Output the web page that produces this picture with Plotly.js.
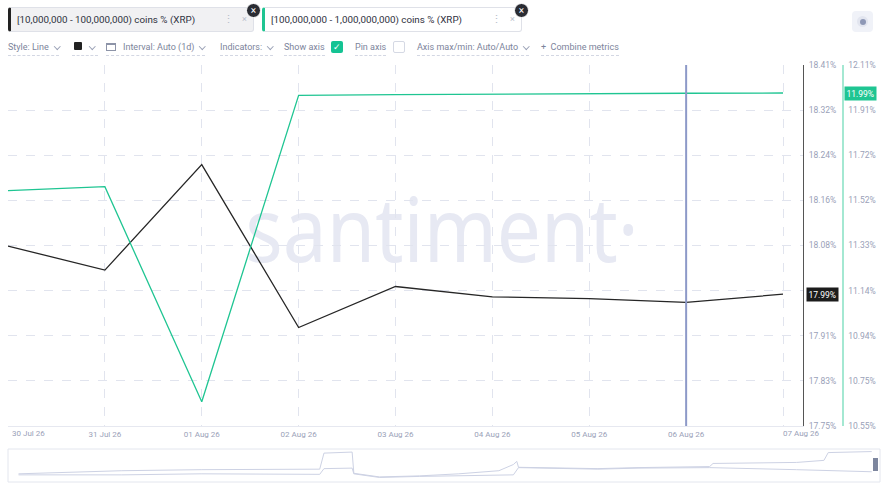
<!DOCTYPE html>
<html>
<head>
<meta charset="utf-8">
<script src="https://cdn.plot.ly/plotly-3.0.1.min.js"></script>
<style>
  html, body { margin: 0; padding: 0; background: #fff; }
  body { width: 889px; height: 483px; position: relative; overflow: hidden; font-family: Roboto, "Noto Sans", sans-serif; }
  #chart { position: absolute; left: 0; top: 0; width: 889px; height: 483px; z-index: 1; }
  #wm { position: absolute; left: 0; width: 884px; top: 182px; text-align: center; font-family: "Noto Sans", sans-serif;
        font-weight: 400; font-size: 90px; line-height: 90px; color: #e7e9f3; z-index: 0;
        transform: scaleX(0.87); transform-origin: 442px 0; white-space: nowrap; }
  .ui { position: absolute; z-index: 2; }
  .tab { position: absolute; top: 7px; height: 25px; border: 1px solid #dfe1e8; border-radius: 3px; box-sizing: border-box;
         font-size: 9.8px; color: #2f3140; line-height: 23px; padding-left: 6px; white-space: nowrap; }
  .tab .dots { position: absolute; top: 0; color: #b8bdcb; font-size: 11px; }
  .tab .x { position: absolute; top: 0; color: #b8bdcb; font-size: 9px; }
  .close { position: absolute; width: 13px; height: 13px; border-radius: 50%; background: #2a2c33; color: #fff;
           font-size: 10px; line-height: 13px; text-align: center; border: 1px solid #fff; }
  .tb { position: absolute; top: 41px; font-size: 9px; color: #7c849b; height: 14px; line-height: 12px;
        border-bottom: 1px dashed #d3d7e3; white-space: nowrap; }
  .chev { display: inline-block; width: 3.5px; height: 3.5px; border-right: 1px solid #9aa1b6; border-bottom: 1px solid #9aa1b6;
          transform: rotate(45deg); margin-left: 6px; position: relative; top: -2px; }
  .box { position: absolute; top: 41px; width: 12px; height: 12px; box-sizing: border-box; border-radius: 2px; }
</style>
</head>
<body>
<div id="wm">santiment·</div>
<div id="chart"></div>

<div class="ui">
  <div class="tab" style="left:8px; width:246px; background:#f1f1f3; border-left:3px solid #222;">
    [10,000,000 - 100,000,000) coins % (XRP)
    <span class="dots" style="left:212px;">⋮</span><span class="x" style="left:231px;">×</span>
  </div>
  <div class="close" style="left:246px; top:3px;">×</div>
  <div class="tab" style="left:262px; width:260px; background:#fff; border-left:3px solid #1fc592;">
    [100,000,000 - 1,000,000,000) coins % (XRP)
    <span class="dots" style="left:226px;">⋮</span><span class="x" style="left:245px;">×</span>
  </div>
  <div class="close" style="left:514px; top:3px;">×</div>
  <div style="position:absolute; left:852px; top:11px; width:21px; height:21px; border-radius:4px; background:#f0f2f8;">
    <div style="position:absolute; left:5px; top:5px; width:11px; height:11px; border-radius:50%; background:#e2e5ef;"></div>
    <div style="position:absolute; left:7.5px; top:7.5px; width:6px; height:6px; border-radius:50%; background:#8e98b6;"></div>
  </div>

  <div class="tb" style="left:8px;">Style: Line<span class="chev"></span></div>
  <div class="tb" style="left:72px; width:26px;">
    <span style="display:inline-block; width:8px; height:8px; background:#222; border-radius:1px; margin-left:2px;"></span><span class="chev" style="margin-left:8px;"></span>
  </div>
  <div class="tb" style="left:106px;">
    <span style="display:inline-block; width:10px; height:8px; border:1px solid #8d94a8; border-top-width:2px; box-sizing:border-box; margin-right:7px; position:relative; top:1px;"></span>Interval: Auto (1d)<span class="chev"></span>
  </div>
  <div class="tb" style="left:220px;">Indicators:<span class="chev"></span></div>
  <div class="tb" style="left:284px;">Show axis</div>
  <div class="box" style="left:331px; background:#14c393; color:#fff; font-size:9px; line-height:12px; text-align:center;">✓</div>
  <div class="tb" style="left:355px;">Pin axis</div>
  <div class="box" style="left:393px; border:1px solid #d5d9e4;"></div>
  <div class="tb" style="left:417px;">Axis max/min: Auto/Auto<span class="chev"></span></div>
  <div class="tb" style="left:541px;">+&nbsp;&nbsp;Combine metrics</div>
</div>

<script>
// daily points, 30 Jul - 07 Aug
const dates = ["2026-07-30", "2026-07-31", "2026-08-01", "2026-08-02", "2026-08-03",
               "2026-08-04", "2026-08-05", "2026-08-06", "2026-08-07"];
const dateLabels = ["30 Jul 26", "31 Jul 26", "01 Aug 26", "02 Aug 26", "03 Aug 26",
                    "04 Aug 26", "05 Aug 26", "06 Aug 26", "07 Aug 26"];

// [10M - 100M) coins % (XRP)  -> black, inner right axis
const smallHolders = [18.079, 18.035, 18.228, 17.930, 18.005, 17.986, 17.983, 17.976, 17.991];
// [100M - 1B) coins % (XRP)  -> green, outer right axis
const bigHolders = [11.567, 11.584, 10.655, 11.979, 11.982, 11.985, 11.986, 11.988, 11.989];

const smallTicks = ["17.75", "17.83", "17.91", "17.99", "18.08", "18.16", "18.24", "18.32", "18.41"];
const bigTicks = ["10.55", "10.75", "10.94", "11.14", "11.33", "11.52", "11.72", "11.91", "12.11"];

// navigator overview (whole history, % of span vs relative level)
const navPosA = [0, 5.1, 12.1, 21.4, 35.3, 35.8, 39.1, 39.3, 42.3, 47.0, 51.6, 56.3, 58.0, 58.4, 58.6, 67.9, 72.6, 81.0, 81.4, 91.2, 94.4, 94.9, 100];
const navA = [5, 6.3, 8, 9, 9.5, 25, 26, 5.5, 2, 3, 5, 8, 14, 17, 11.3, 10, 11, 12, 15, 16, 18, 25.5, 26.5];
const navPosB = [0, 12.1, 21.4, 35.3, 35.8, 39.1, 39.3, 42.3, 47.0, 51.6, 56.3, 58.0, 58.6, 67.9, 72.6, 81.0, 91.2, 100];
const navB = [4, 4, 5, 4.5, 10, 10.5, 5, 1.5, 2.5, 3, 3.5, 4, 11, 9.5, 10.5, 11, 9, 7];

const W = 889, H = 483;
const px = v => v / W;
const py = v => 1 - v / H;

const blackColor = "#262626";
const greenColor = "#1fc592";
const tickColor = "#9aa1b8";

function evenTicks(lo, hi, n) {
    let out = [];
    for (let i = 0; i < n; i++) out.push(lo + (hi - lo) * i / (n - 1));
    return out;
}
const smallRange = [parseFloat(smallTicks[0]), parseFloat(smallTicks[smallTicks.length - 1])];
const bigRange = [parseFloat(bigTicks[0]), parseFloat(bigTicks[bigTicks.length - 1])];

const last = dates.length - 1;
const smallBadge = smallHolders[last].toFixed(2);
const bigBadge = bigHolders[last].toFixed(2);

let data = [
    { x: dates, y: smallHolders, type: "scatter", mode: "lines", xaxis: "x", yaxis: "y",
      line: { color: blackColor, width: 1.3 }, hoverinfo: "skip" },
    { x: dates, y: bigHolders, type: "scatter", mode: "lines", xaxis: "x", yaxis: "y2",
      line: { color: greenColor, width: 1.3 }, hoverinfo: "skip" },
    { x: navPosA, y: navA, type: "scatter", mode: "lines", xaxis: "x2", yaxis: "y3",
      line: { color: "#cdd2e4", width: 1 }, hoverinfo: "skip" },
    { x: navPosB, y: navB, type: "scatter", mode: "lines", xaxis: "x2", yaxis: "y3",
      line: { color: "#cdd2e4", width: 1 }, hoverinfo: "skip" }
];

const plotTop = 65, plotBottom = 426;

let layout = {
    width: W,
    height: H,
    margin: { t: 0, b: 0, l: 0, r: 0 },
    paper_bgcolor: "rgba(0,0,0,0)",
    plot_bgcolor: "rgba(0,0,0,0)",
    showlegend: false,
    font: { family: "Roboto, sans-serif", color: tickColor },
    xaxis: {
        type: "date",
        domain: [px(8), px(803)],
        range: [dates[0], "2026-08-07 04:57"],
        tickmode: "array",
        tickvals: dates,
        ticktext: dateLabels.map((t, i) => (i === 0 || i === last) ? "" : t),
        ticks: "",
        tickfont: { size: 8, color: tickColor },
        showgrid: true,
        gridcolor: "#e1e4ee",
        griddash: "dash",
        gridwidth: 1,
        showline: true,
        linecolor: "#e6e8f0",
        zeroline: false,
        fixedrange: true
    },
    yaxis: {
        domain: [py(plotBottom), py(plotTop)],
        range: smallRange,
        side: "right",
        anchor: "x",
        tickmode: "array",
        tickvals: evenTicks(smallRange[0], smallRange[1], smallTicks.length),
        // the last-value badge sits on top of the matching tick label
        ticktext: smallTicks.map(t => t === smallBadge ? "" : t + "%"),
        ticks: "",
        ticklabelstandoff: 3,
        tickfont: { size: 8.5, color: tickColor },
        showgrid: true,
        gridcolor: "#e1e4ee",
        griddash: "dash",
        showline: true,
        linecolor: "#555555",
        linewidth: 1,
        zeroline: false
    },
    yaxis2: {
        overlaying: "y",
        range: bigRange,
        side: "right",
        anchor: "free",
        position: px(842),
        tickmode: "array",
        tickvals: evenTicks(bigRange[0], bigRange[1], bigTicks.length),
        ticktext: bigTicks.map(t => t + "%"),
        ticks: "",
        ticklabelstandoff: 3,
        tickfont: { size: 8.5, color: tickColor },
        showgrid: false,
        showline: true,
        linecolor: "#a4e8d2",
        linewidth: 1.5,
        zeroline: false
    },
    xaxis2: {
        domain: [px(10), px(876)],
        range: [-1, 100.5],
        anchor: "y3",
        visible: false
    },
    yaxis3: {
        domain: [py(479), py(450)],
        range: [0, 28],
        anchor: "x2",
        visible: false
    },
    shapes: [
        // hover crosshair on 06 Aug
        { type: "line", xref: "x", yref: "paper", x0: dates[7], x1: dates[7],
          y0: py(plotBottom), y1: py(plotTop), line: { color: "#8d99c8", width: 2 } },
        // navigator frame
        { type: "rect", xref: "paper", yref: "paper", x0: px(8), x1: px(880), y0: py(482), y1: py(449),
          line: { color: "#e3e6ee", width: 1 }, fillcolor: "rgba(0,0,0,0)" },
        // navigator handle
        { type: "rect", xref: "paper", yref: "paper", x0: px(873), x1: px(878), y0: py(471), y1: py(458),
          line: { width: 0 }, fillcolor: "#7d869e" }
    ],
    annotations: [
        { xref: "x", yref: "paper", x: dates[0], y: py(plotBottom + 7), xanchor: "left", yanchor: "middle",
          xshift: 2, text: dateLabels[0], showarrow: false, font: { size: 8, color: tickColor } },
        { xref: "x", yref: "paper", x: dates[last], y: py(plotBottom + 7), xanchor: "left", yanchor: "middle",
          xshift: -2, text: dateLabels[last], showarrow: false, font: { size: 8, color: tickColor } },
        { xref: "paper", yref: "y", x: px(806), y: smallHolders[last], xanchor: "left", yanchor: "middle",
          text: smallBadge + "%", showarrow: false, bgcolor: "#1c1c1c", borderpad: 1.5,
          font: { size: 8.5, color: "#ffffff" } },
        { xref: "paper", yref: "y2", x: px(844), y: bigHolders[last], xanchor: "left", yanchor: "middle",
          text: bigBadge + "%", showarrow: false, bgcolor: greenColor, borderpad: 1.5,
          font: { size: 8.5, color: "#ffffff" } }
    ]
};

Plotly.newPlot("chart", data, layout, { displayModeBar: false, staticPlot: true });
</script>
</body>
</html>
